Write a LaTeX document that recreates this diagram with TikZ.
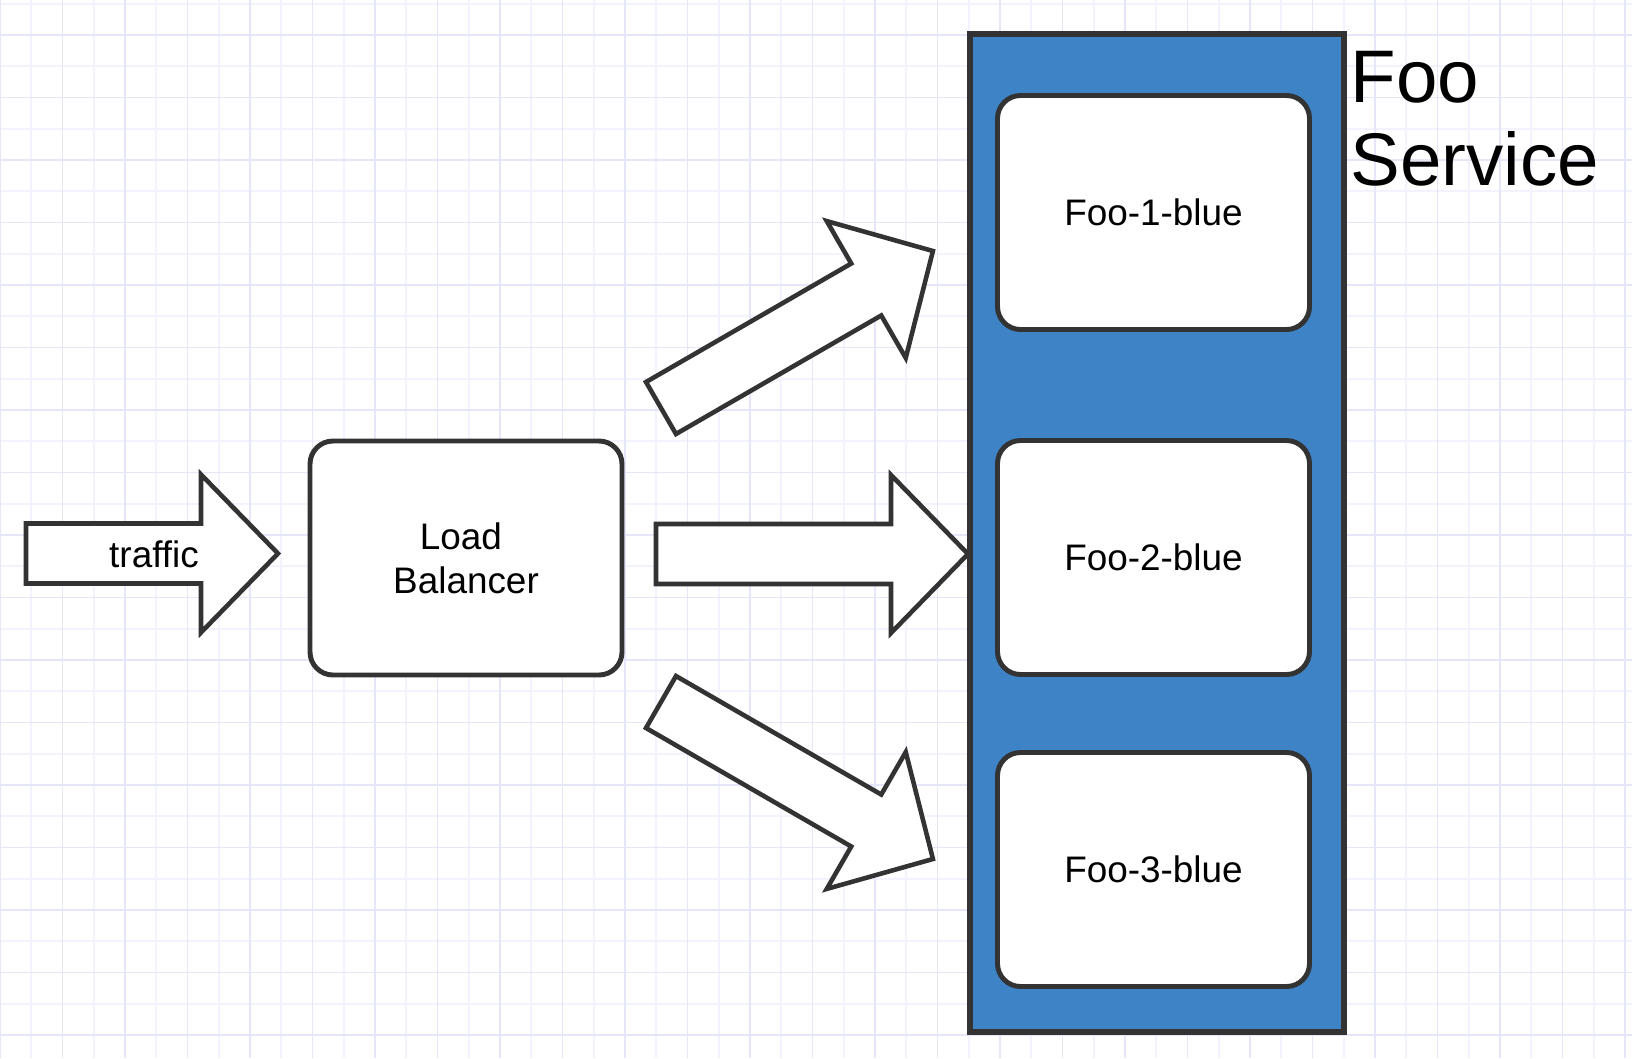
\documentclass[tikz,border=0pt]{standalone}
\usepackage{fontspec}
\setmainfont{Liberation Sans}
\usepackage{tikz}
\usetikzlibrary{positioning}
\definecolor{linegray}{RGB}{51,51,51}
\definecolor{svcblue}{RGB}{61,131,197}
\definecolor{gridlo}{RGB}{243,243,255}
\definecolor{gridhi}{RGB}{230,230,251}
\tikzset{
    mybox/.style = {rectangle, rounded corners=2.3mm, line width=1.4pt, draw=linegray, fill=white, align=center, minimum width=31.2mm, minimum height=23.4mm, inner sep=0pt, font=\fontsize{10.5}{12.5}\selectfont},
    myservice/.style = {rectangle, line width=1.7pt, draw=linegray, fill=svcblue, minimum width=37.4mm, minimum height=99.8mm, inner sep=0pt},
    myarrow/.style = {line width=1.3pt, draw=linegray, fill=white},
    mytext/.style = {inner sep=0pt, font=\fontsize{10.5}{12.5}\selectfont},
    mytitle/.style = {inner sep=0pt, align=left, font=\fontsize{21.2}{23.5}\selectfont},
    gridminor/.style = {line width=0.55pt, gridlo},
    gridmajor/.style = {line width=0.55pt, gridhi},
    blockarrow/.pic = {
      \draw[myarrow] (0,-30) -- (#1-77,-30) -- (#1-77,-79) -- (#1,0)
        -- (#1-77,79) -- (#1-77,30) -- (0,30) -- cycle;
    }
}

\begin{document}
\begin{tikzpicture}[x=0.1mm, y=-0.1mm]
  \useasboundingbox[fill=white] (0,0) rectangle (1632,1058);
  % grid
  \foreach \x in {31.25,93.75,...,1632} \draw[gridminor] (\x,0) -- (\x,1058);
  \foreach \y in {3.75,66.25,...,1058} \draw[gridminor] (0,\y) -- (1632,\y);
  \foreach \x in {0,62.5,...,1632} \draw[gridmajor] (\x,0) -- (\x,1058);
  \foreach \y in {35,97.5,...,1058} \draw[gridmajor] (0,\y) -- (1632,\y);

  \node[myservice] (svc) at (1157,533) {};
  \node[mytitle, anchor=north west] (svctitle) at (1350,51) {Foo\\Service};

  \node[mybox] (lb) at (466,558) {Load\hspace*{.28em}\\Balancer};
  \node[mybox] (foo1) at (1153.5,212.5) {Foo-1-blue};
  \node[mybox] (foo2) at (1153.5,557.5) {Foo-2-blue};
  \node[mybox] (foo3) at (1153.5,869.5) {Foo-3-blue};

  % block arrows
  \pic at (26,553.5) {blockarrow=252};
  \node[mytext] (traffic) at (154,554) {traffic};
  \pic[rotate=30] at (661,408) {blockarrow=314};
  \pic at (656,554) {blockarrow=312};
  \pic[rotate=-30] at (661,702) {blockarrow=314};
\end{tikzpicture}
\end{document}
